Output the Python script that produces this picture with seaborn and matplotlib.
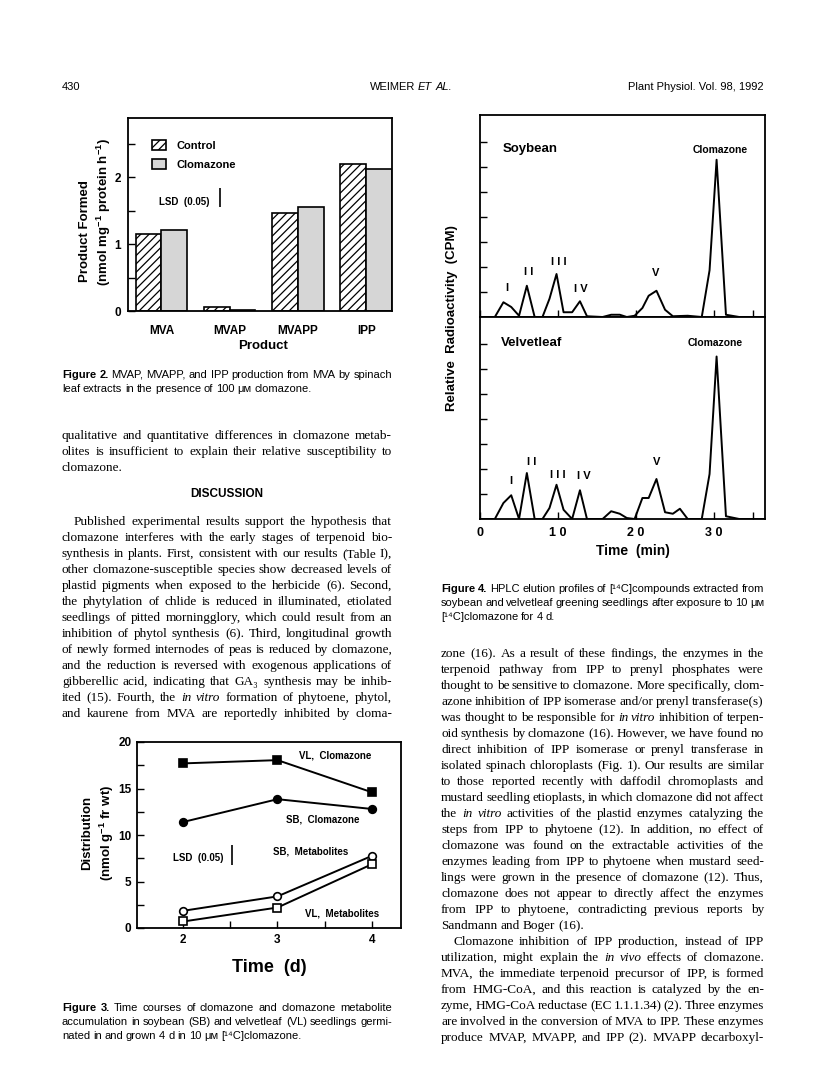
import matplotlib
matplotlib.use('Agg')
import matplotlib.pyplot as plt
from matplotlib.patches import Patch
import pandas as pd
import seaborn as sns

# page size in pixels (saved at dpi 100)
W, H = 816, 1073

# Figure 2: products formed from MVA
products = ['MVA', 'MVAP', 'MVAPP', 'IPP']
control = [1.15, 0.06, 1.47, 2.20]
clomazone = [1.21, 0.02, 1.55, 2.12]
lsd_fig2 = 0.28
fig2_yticks = [0, 1, 2]

# Figure 3: time course of clomazone and metabolites
days = [2, 3, 4]
vl_clomazone = [17.7, 18.05, 14.6]
sb_clomazone = [11.4, 13.85, 12.8]
sb_metabolites = [1.85, 3.4, 7.75]
vl_metabolites = [0.7, 2.2, 6.85]
lsd_fig3 = 2.1
fig3_yticks = [0, 5, 10, 15, 20]

# Figure 4: HPLC elution profiles
time_min = [0, 1.9, 3.0, 4.0, 5.0, 6.0, 7.0, 8.0, 8.9, 9.8, 10.7, 11.8, 12.8, 13.7, 15.7,
            16.8, 17.9, 18.8, 19.8, 20.8, 21.6, 22.6, 23.7, 24.7, 25.6, 26.6, 28.4, 29.4,
            30.3, 31.5, 33.2, 36.4]
soybean = [0, 0, 0.59, 0.40, 0.05, 1.25, 0, 0, 0.73, 1.72, 0.19, 0.19, 0.63, 0.03, 0,
           0.09, 0.09, 0, 0.05, 0.36, 0.85, 1.05, 0.29, 0.03, 0.04, 0.05, 0, 1.87,
           6.29, 0.09, 0, 0]
velvetleaf = [0, 0, 0.64, 0.95, 0, 1.84, 0, 0, 0.44, 1.37, 0.37, 0, 1.15, 0, 0,
              0.31, 0.21, 0.04, 0, 0.84, 0.84, 1.60, 0.27, 0.21, 0.41, 0, 0, 1.80,
              6.50, 0.11, 0, 0]
fig4_xticks = [0, 10, 20, 30]
fig4_xlabels = ['0', '1 0', '2 0', '3 0']

# page text
cap2 = ["*Figure* *2.* MVAP, MVAPP, and IPP production from MVA by spinach",
        "leaf extracts in the presence of 100 μᴍ clomazone."]
cap3 = ["*Figure* *3.* Time courses of clomazone and clomazone metabolite",
        "accumulation in soybean (SB) and velvetleaf (VL) seedlings germi-",
        "nated in and grown 4 d in 10 μᴍ [¹⁴C]clomazone."]
cap4 = ["*Figure* *4.* HPLC elution profiles of [¹⁴C]compounds extracted from",
        "soybean and velvetleaf greening seedlings after exposure to 10 μᴍ",
        "[¹⁴C]clomazone for 4 d."]
par_a = ["qualitative and quantitative differences in clomazone metab-",
         "olites is insufficient to explain their relative susceptibility to",
         "clomazone."]
par_b = ["Published experimental results support the hypothesis that",
         "clomazone interferes with the early stages of terpenoid bio-",
         "synthesis in plants. First, consistent with our results (Table I),",
         "other clomazone-susceptible species show decreased levels of",
         "plastid pigments when exposed to the herbicide (6). Second,",
         "the phytylation of chlide is reduced in illuminated, etiolated",
         "seedlings of pitted morningglory, which could result from an",
         "inhibition of phytol synthesis (6). Third, longitudinal growth",
         "of newly formed internodes of peas is reduced by clomazone,",
         "and the reduction is reversed with exogenous applications of",
         "gibberellic acid, indicating that GA₃ synthesis may be inhib-",
         "ited (15). Fourth, the _in_ _vitro_ formation of phytoene, phytol,",
         "and kaurene from MVA are reportedly inhibited by cloma-"]
par_c = ["zone (16). As a result of these findings, the enzymes in the",
         "terpenoid pathway from IPP to prenyl phosphates were",
         "thought to be sensitive to clomazone. More specifically, clom-",
         "azone inhibition of IPP isomerase and/or prenyl transferase(s)",
         "was thought to be responsible for _in_ _vitro_ inhibition of terpen-",
         "oid synthesis by clomazone (16). However, we have found no",
         "direct inhibition of IPP isomerase or prenyl transferase in",
         "isolated spinach chloroplasts (Fig. 1). Our results are similar",
         "to those reported recently with daffodil chromoplasts and",
         "mustard seedling etioplasts, in which clomazone did not affect",
         "the _in_ _vitro_ activities of the plastid enzymes catalyzing the",
         "steps from IPP to phytoene (12). In addition, no effect of",
         "clomazone was found on the extractable activities of the",
         "enzymes leading from IPP to phytoene when mustard seed-",
         "lings were grown in the presence of clomazone (12). Thus,",
         "clomazone does not appear to directly affect the enzymes",
         "from IPP to phytoene, contradicting previous reports by",
         "Sandmann and Boger (16)."]
par_d = ["Clomazone inhibition of IPP production, instead of IPP",
         "utilization, might explain the _in_ _vivo_ effects of clomazone.",
         "MVA, the immediate terpenoid precursor of IPP, is formed",
         "from HMG-CoA, and this reaction is catalyzed by the en-",
         "zyme, HMG-CoA reductase (EC 1.1.1.34) (2). Three enzymes",
         "are involved in the conversion of MVA to IPP. These enzymes",
         "produce MVAP, MVAPP, and IPP (2). MVAPP decarboxyl-"]

SERIF = ['Liberation Serif', 'DejaVu Serif']
SANS = ['Liberation Sans', 'DejaVu Sans']
plt.rcParams['font.family'] = SANS
plt.rcParams['mathtext.fontset'] = 'custom'
plt.rcParams['mathtext.bf'] = 'Liberation Sans:bold'
plt.rcParams['mathtext.rm'] = 'Liberation Sans:bold'
plt.rcParams['mathtext.default'] = 'bf'
plt.rcParams['hatch.linewidth'] = 0.9
plt.rcParams['axes.linewidth'] = 1.3
plt.rcParams['xtick.direction'] = 'in'
plt.rcParams['ytick.direction'] = 'in'

BODY = 9.5
CAP = 8.0

fig = plt.figure(figsize=(W / 100, H / 100), dpi=100)
renderer = fig.canvas.get_renderer()


def box(left, top, right, bottom):
    return [left / W, 1 - bottom / H, (right - left) / W, (bottom - top) / H]


def put(x, y, s, **kw):
    kw.setdefault('family', SANS)
    return fig.text(x / W, 1 - y / H, s, **kw)


def set_line(x0, x1, y, line, size, family, justify):
    # place word by word so the line can be justified like the printed page
    items = []
    for w in line.split():
        kw = {}
        if w.startswith('_') and w.endswith('_'):
            w, kw = w[1:-1], {'style': 'italic'}
        elif w.startswith('*') and w.endswith('*'):
            w, kw = w[1:-1], {'weight': 'bold'}
        t = put(x0, y, w, fontsize=size, family=family, va='baseline', **kw)
        items.append((t, t.get_window_extent(renderer).width))
    used = sum(wd for _, wd in items)
    gap = 0.25 * size * 100 / 72
    if justify and len(items) > 1:
        gap = (x1 - x0 - used) / (len(items) - 1)
    x = x0
    for t, wd in items:
        t.set_x(x / W)
        x += wd + gap


def paragraph(lines, x0, x1, y0, size, family, lead, indent=0, ends=True):
    for i, line in enumerate(lines):
        last = ends and i == len(lines) - 1
        set_line(x0 + (indent if i == 0 else 0), x1, y0 + i * lead, line, size, family, not last)


# running head
put(62, 90, '430', fontsize=8, va='baseline')
set_line(370, 440, 90, 'WEIMER _ET_ _AL._', 8, SANS, False)
put(764, 90, 'Plant Physiol. Vol. 98, 1992', fontsize=8, va='baseline', ha='right')

# ---------------- Figure 2 ----------------
ax2 = fig.add_axes(box(128, 118, 392, 311))
df2 = pd.DataFrame({'Product': products * 2,
                    'Treatment': ['Control'] * 4 + ['Clomazone'] * 4,
                    'Formed': control + clomazone})
sns.barplot(data=df2, x='Product', y='Formed', hue='Treatment', ax=ax2,
            palette={'Control': 'white', 'Clomazone': '#d6d6d6'}, saturation=1,
            width=0.755, gap=0, edgecolor='black', linewidth=1.2, legend=False)
for bar in ax2.containers[0]:
    bar.set_hatch('////')
ax2.set_xlim(-0.49, 3.377)
ax2.set_ylim(0, 2.89)
ax2.set_yticks(fig2_yticks, labels=[str(v) for v in fig2_yticks], fontweight='bold', fontsize=8.5)
ax2.set_yticks([0.5, 1.5, 2.5], minor=True)
ax2.set_xticks(range(len(products)), labels=products, fontweight='bold', fontsize=8.5)
ax2.tick_params(axis='x', length=0, pad=10)
ax2.tick_params(axis='y', which='both', length=5, width=1, pad=5)
ax2.set_xlabel('')
ax2.set_ylabel('')
handles = [Patch(facecolor='white', edgecolor='black', hatch='////', lw=1.2),
           Patch(facecolor='#d6d6d6', edgecolor='black', lw=1.2)]
ax2.legend(handles, ['Control', 'Clomazone'], loc='upper left', bbox_to_anchor=(0.09, 0.885),
           frameon=False, prop={'weight': 'bold', 'size': 8, 'family': SANS},
           handlelength=1.3, handleheight=1.0, handletextpad=0.9, labelspacing=0.75,
           borderpad=0, borderaxespad=0)
ax2.vlines(0.86, 1.7 - lsd_fig2 / 2, 1.7 + lsd_fig2 / 2, color='black', lw=1.2)
put(159, 202, 'LSD  (0.05)', fontsize=7, weight='bold', va='center')
put(263, 346, 'Product', fontsize=9.5, weight='bold', ha='center', va='center')
put(85, 231, 'Product Formed', fontsize=9.5, weight='bold', rotation=90, ha='center', va='center')
put(104, 212, '(nmol mg$^{-1}$ protein h$^{-1}$)', fontsize=9.5, weight='bold',
    rotation=90, ha='center', va='center')
paragraph(cap2, 62, 392, 378, CAP, SANS, 14)

# body text, left column
paragraph(par_a, 62, 392, 439, BODY, SERIF, 16)
put(227, 494, 'DISCUSSION', fontsize=8.5, weight='bold', ha='center', va='center')
paragraph(par_b, 62, 392, 525, BODY, SERIF, 16, indent=12, ends=False)

# ---------------- Figure 3 ----------------
ax3 = fig.add_axes(box(137, 742, 401, 928))
series3 = [(vl_clomazone, 's', 'black'), (sb_clomazone, 'o', 'black'),
           (sb_metabolites, 'o', 'white'), (vl_metabolites, 's', 'white')]
for vals, mk, fc in series3:
    sns.lineplot(x=days, y=vals, ax=ax3, color='black', lw=1.4, marker=mk, markersize=5.5,
                 markerfacecolor=fc, markeredgecolor='black', markeredgewidth=1.2,
                 clip_on=False)
ax3.set_xlim(1.51, 4.31)
ax3.set_ylim(0, 20)
ax3.set_xticks(days, labels=[str(d) for d in days], fontweight='bold', fontsize=8.5)
ax3.set_xticks([2.5, 3.5], minor=True)
ax3.set_yticks(fig3_yticks, labels=[str(v) for v in fig3_yticks], fontweight='bold', fontsize=8.5)
ax3.set_yticks([2.5, 7.5, 12.5, 17.5], minor=True)
ax3.tick_params(which='both', length=5, width=1, pad=4)
ax3.vlines(2.52, 7.85 - lsd_fig3 / 2, 7.85 + lsd_fig3 / 2, color='black', lw=1.2)
put(335, 755, 'VL,  Clomazone', fontsize=7, weight='bold', ha='center', va='center')
put(323, 820, 'SB,  Clomazone', fontsize=7, weight='bold', ha='center', va='center')
put(311, 852, 'SB,  Metabolites', fontsize=7, weight='bold', ha='center', va='center')
put(342, 913, 'VL,  Metabolites', fontsize=7, weight='bold', ha='center', va='center')
put(198, 858, 'LSD  (0.05)', fontsize=7, weight='bold', ha='center', va='center')
put(87, 833, 'Distribution', fontsize=9.5, weight='bold', rotation=90, ha='center', va='center')
put(107, 833, '(nmol g$^{-1}$ fr wt)', fontsize=9.5, weight='bold', rotation=90,
    ha='center', va='center')
put(269, 968, 'Time  (d)', fontsize=13, weight='bold', ha='center', va='center')
paragraph(cap3, 62, 392, 1011, CAP, SANS, 14)

# ---------------- Figure 4 ----------------
ax4a = fig.add_axes(box(480, 115, 765, 317))
ax4b = fig.add_axes(box(480, 317, 765, 519))
for ax, trace in [(ax4a, soybean), (ax4b, velvetleaf)]:
    sns.lineplot(x=time_min, y=trace, ax=ax, color='black', lw=1.4, estimator=None, sort=False)
    ax.set_xlim(0, 36.5)
    ax.set_ylim(0, 8.08)
    ax.set_yticks(range(1, 8), labels=[])
    ax.set_xticks(fig4_xticks, labels=fig4_xlabels, fontweight='bold', fontsize=9)
    ax.set_xticks([35], minor=True)
    ax.tick_params(which='both', length=5, width=1, pad=6)
    ax.set_xlabel('')
    ax.set_ylabel('')
ax4a.tick_params(axis='x', labelbottom=False)

put(503, 149, 'Soybean', fontsize=9.5, weight='bold', va='center')
put(720, 150, 'Clomazone', fontsize=7.5, weight='bold', ha='center', va='center')
put(501, 343, 'Velvetleaf', fontsize=9.5, weight='bold', va='center')
put(715, 343, 'Clomazone', fontsize=7.5, weight='bold', ha='center', va='center')
for s, x, y in [('I', 507, 288), ('I I', 529, 272), ('I I I', 559, 262), ('I V', 581, 289),
                ('V', 656, 273), ('I', 511, 481), ('I I', 532, 462), ('I I I', 558, 475),
                ('I V', 584, 476), ('V', 657, 462)]:
    put(x, y, s, fontsize=8, weight='bold', ha='center', va='center')
put(452, 318, 'Relative  Radioactivity  (CPM)', fontsize=9.5, weight='bold', rotation=90,
    ha='center', va='center')
put(633, 551, 'Time  (min)', fontsize=10, weight='bold', ha='center', va='center')
paragraph(cap4, 441, 764, 592, CAP, SANS, 14)

# body text, right column
paragraph(par_c, 441, 764, 657, BODY, SERIF, 16)
paragraph(par_d, 441, 764, 945, BODY, SERIF, 16, indent=12, ends=False)

fig.savefig('out.png', dpi=100)
